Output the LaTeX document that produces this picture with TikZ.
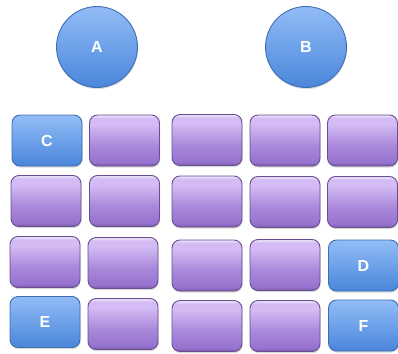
\documentclass[tikz,border=0pt]{standalone}
\usepackage{fontspec}
\setmainfont{Liberation Sans}
\usetikzlibrary{shadows}
\definecolor{pTop}{HTML}{D4BBF4}
\definecolor{pBot}{HTML}{9673CF}
\definecolor{pEdge}{HTML}{6A4D92}
\definecolor{bTop}{HTML}{92BCF7}
\definecolor{bBot}{HTML}{4A86DA}
\definecolor{bEdge}{HTML}{3E6DB0}
\pgfdeclareverticalshading{purpgloss}{100bp}{%
  color(0bp)=(pBot!75!black); color(25bp)=(pBot!75!black);
  color(26.5bp)=(pBot!88!black); color(28.5bp)=(pBot);
  color(45bp)=(pBot!70!pTop); color(66bp)=(pTop);
  color(72bp)=(pTop); color(73.8bp)=(pTop!55!white);
  color(75bp)=(pTop!55!white); color(100bp)=(pTop!55!white)}
\tikzset{
  tile/.style={rounded corners=8pt, minimum width=70pt, minimum height=51pt, inner sep=0pt,
    line width=0.9pt, drop shadow={opacity=0.3, shadow xshift=0.6pt, shadow yshift=-1.6pt},
    font=\fontsize{16}{19}\selectfont\bfseries, text=white},
  ptile/.style={tile, draw=pEdge, shading=purpgloss},
  btile/.style={tile, draw=bEdge, top color=bTop, bottom color=bBot},
  ball/.style={circle, minimum size=81pt, inner sep=0pt, line width=0.9pt, draw=bEdge,
    top color=bTop, bottom color=bBot,
    drop shadow={opacity=0.25, shadow xshift=0.6pt, shadow yshift=-1.6pt},
    font=\fontsize{16}{19}\selectfont\bfseries, text=white}
}
\begin{document}
\begin{tikzpicture}[x=1pt,y=-1pt]
\useasboundingbox (0,0) rectangle (398,353);
\node[ball] (A) at (97,47) {A};
\node[ball] (B) at (306,47) {B};
% row 1
\node[btile] (C) at (47,140.5) {C};
\node[ptile] (r1c2) at (124.5,140.5) {};
\node[ptile] (r1c3) at (207,140) {};
\node[ptile] (r1c4) at (285,140.5) {};
\node[ptile] (r1c5) at (362.5,140.5) {};
% row 2
\node[ptile] (r2c1) at (46,201) {};
\node[ptile] (r2c2) at (124.5,201) {};
\node[ptile] (r2c3) at (207,201.5) {};
\node[ptile] (r2c4) at (285,202) {};
\node[ptile] (r2c5) at (362.5,202) {};
% row 3
\node[ptile] (r3c1) at (45,262) {};
\node[ptile] (r3c2) at (123,263) {};
\node[ptile] (r3c3) at (207,265.5) {};
\node[ptile] (r3c4) at (285,265) {};
\node[btile] (D) at (363.5,265.5) {D};
% row 4
\node[btile] (E) at (45,322) {E};
\node[ptile] (r4c2) at (123,324) {};
\node[ptile] (r4c3) at (207,326) {};
\node[ptile] (r4c4) at (285,326) {};
\node[btile] (F) at (363.5,325.5) {F};
\end{tikzpicture}
\end{document}
